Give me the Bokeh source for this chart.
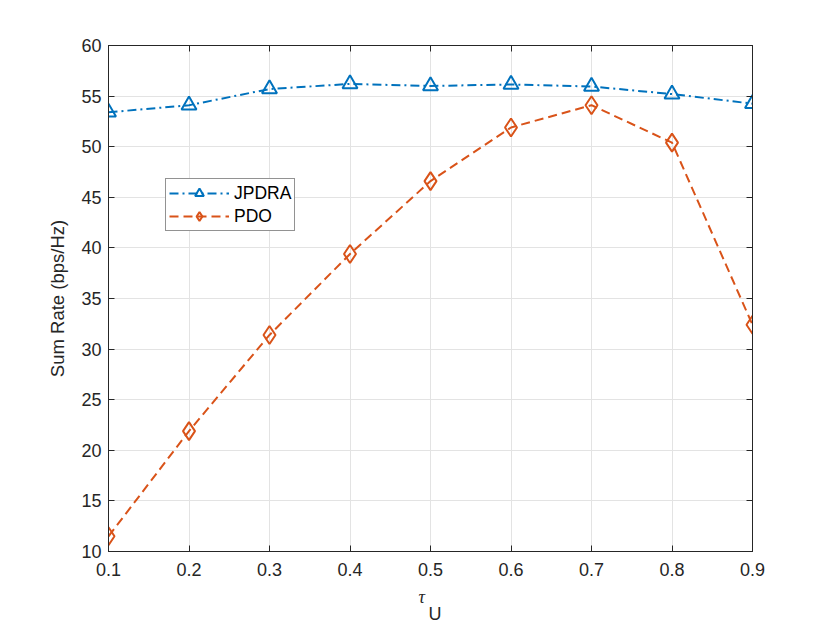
from bokeh.plotting import figure
from bokeh.models import Range1d, FixedTicker, LinearAxis, Legend, Title
from bokeh.embed import file_html
from bokeh.resources import INLINE

tau = [0.1, 0.2, 0.3, 0.4, 0.5, 0.6, 0.7, 0.8, 0.9]
jpdra = [53.4, 54.1, 55.7, 56.2, 56.0, 56.15, 55.95, 55.2, 54.25]
pdo = [11.5, 21.9, 31.4, 39.4, 46.6, 51.9, 54.1, 50.4, 32.4]
x_ticks = [0.1, 0.2, 0.3, 0.4, 0.5, 0.6, 0.7, 0.8, 0.9]
y_ticks = [10, 15, 20, 25, 30, 35, 40, 45, 50, 55, 60]

BLUE = "#0072BD"
ORANGE = "#D95319"
AX = "#262626"
FONT = "Liberation Sans"

p = figure(width=830, height=623, output_backend="svg", toolbar_location=None,
           x_range=Range1d(0.1, 0.9), y_range=Range1d(10, 60),
           min_border_left=108, min_border_right=78, min_border_top=45, min_border_bottom=72)
p.background_fill_color = "white"
p.border_fill_color = "white"
p.outline_line_color = AX
p.outline_line_width = 1

def style_axis(ax, labels=True):
    ax.axis_line_color = AX
    ax.major_tick_line_color = AX
    ax.major_tick_in = 6
    ax.major_tick_out = 0
    ax.minor_tick_line_color = None
    ax.major_label_text_font = FONT
    if labels:
        ax.major_label_text_color = AX
        ax.major_label_text_font_size = "18px"
    else:
        ax.major_label_text_color = None
        ax.major_label_text_font_size = "10px"

p.xaxis.ticker = FixedTicker(ticks=x_ticks)
p.yaxis.ticker = FixedTicker(ticks=y_ticks)
style_axis(p.xaxis[0])
style_axis(p.yaxis[0])
p.xaxis.major_label_standoff = 11
p.yaxis.major_label_standoff = 7
p.yaxis.axis_label = "Sum Rate (bps/Hz)"
p.yaxis.axis_label_text_font = FONT
p.yaxis.axis_label_text_font_style = "normal"
p.yaxis.axis_label_text_font_size = "18.5px"
p.yaxis.axis_label_text_color = AX
p.yaxis.axis_label_standoff = 10

top = LinearAxis(ticker=FixedTicker(ticks=x_ticks))
right = LinearAxis(ticker=FixedTicker(ticks=y_ticks))
style_axis(top, False)
style_axis(right, False)
p.add_layout(top, "above")
p.add_layout(right, "right")

p.xgrid.grid_line_color = "#e3e3e3"
p.ygrid.grid_line_color = "#e3e3e3"
p.xgrid.ticker = FixedTicker(ticks=x_ticks)
p.ygrid.ticker = FixedTicker(ticks=y_ticks)

l1 = p.line(tau, jpdra, line_color=BLUE, line_width=2, line_dash="9 4 2 4")
m1 = p.scatter(tau, jpdra, marker="triangle", size=15, line_color=BLUE, line_width=2, fill_color=None)
l2 = p.line(tau, pdo, line_color=ORANGE, line_width=2, line_dash="9 5")
m2 = p.scatter(tau, pdo, marker="diamond", size=18, line_color=ORANGE, line_width=2, fill_color=None)

legend = Legend(items=[("JPDRA", [l1, m1]), ("PDO", [l2, m2])], location=(57, 320))
legend.border_line_color = AX
legend.border_line_width = 1
legend.background_fill_color = "white"
legend.background_fill_alpha = 1
legend.label_text_font = FONT
legend.label_text_font_size = "17.5px"
legend.label_text_color = "black"
legend.glyph_width = 60
legend.glyph_height = 22
legend.label_height = 22
legend.label_standoff = 5
legend.padding = 3
legend.spacing = 1
legend.margin = 0
p.add_layout(legend, "center")

t_tau = Title(text="τ", align="left", offset=310, standoff=12,
              text_font="Liberation Serif", text_font_style="italic",
              text_font_size="18px", text_color=AX)
t_u = Title(text="U", align="left", offset=320, standoff=-22,
            text_font=FONT, text_font_style="normal",
            text_font_size="18px", text_color=AX)
p.add_layout(t_tau, "below")
p.add_layout(t_u, "below")

open("out.html", "w").write(file_html(p, INLINE))
